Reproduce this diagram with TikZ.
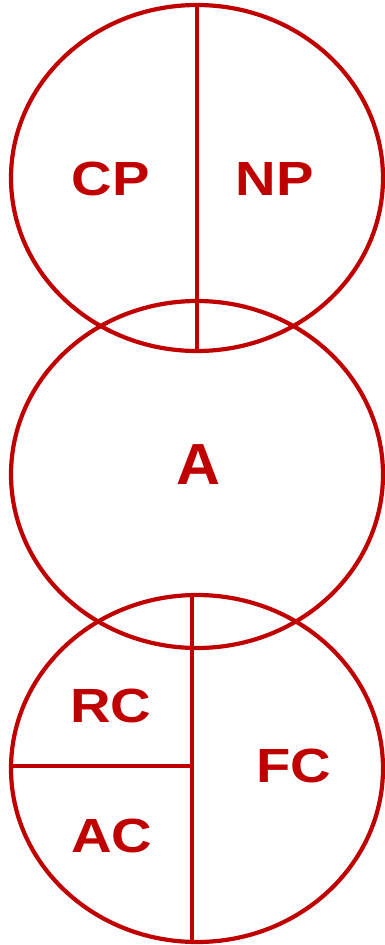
\documentclass[tikz,border=0pt]{standalone}
\usepackage{fontspec}
\setsansfont{Liberation Sans}
\usetikzlibrary{shapes.geometric,positioning}
\definecolor{SetRed}{HTML}{C00000}

\tikzset{
  setring/.style={ellipse,draw=SetRed,line width=4.2pt,inner sep=0pt,outer sep=0pt,
    minimum width=372pt,minimum height=346pt},
  setlabel/.style={text=SetRed,inner sep=0pt,font=\sffamily\bfseries\fontsize{48}{48}\selectfont,
    xscale=1.17,transform shape},
  splitline/.style={draw=SetRed,line width=4.2pt}
}

\begin{document}
\begin{tikzpicture}[x=1pt,y=-1pt]
  \useasboundingbox (0,0) rectangle (385,945);

  % the three rings
  \node[setring] (top) at (197,178) {};
  \node[setring,minimum height=347pt] (mid) at (197,474.5) {};
  \node[setring,minimum height=347pt] (bot) at (197,768.5) {};

  % dividers
  \draw[splitline] (top.north) -- (top.south);
  \coordinate (cut) at ([xshift=-5pt,yshift=2.5pt]bot.center);
  \draw[splitline] ([xshift=-5pt]bot.north) -- ([xshift=-5pt]bot.south);
  \draw[splitline] ([yshift=2.5pt]bot.west) -- (cut);

  % labels
  \node[setlabel] (cp) at (110.5,179) {CP};
  \node[setlabel] (np) at (275,179) {NP};
  \node[setlabel,font=\sffamily\bfseries\fontsize{58}{58}\selectfont,xscale=1.05/1.17] (a) at (198,465) {A};
  \node[setlabel] (rc) at (111,705.5) {RC};
  \node[setlabel] (ac) at (112,836) {AC};
  \node[setlabel] (fc) at (294,765.5) {FC};
\end{tikzpicture}
\end{document}
